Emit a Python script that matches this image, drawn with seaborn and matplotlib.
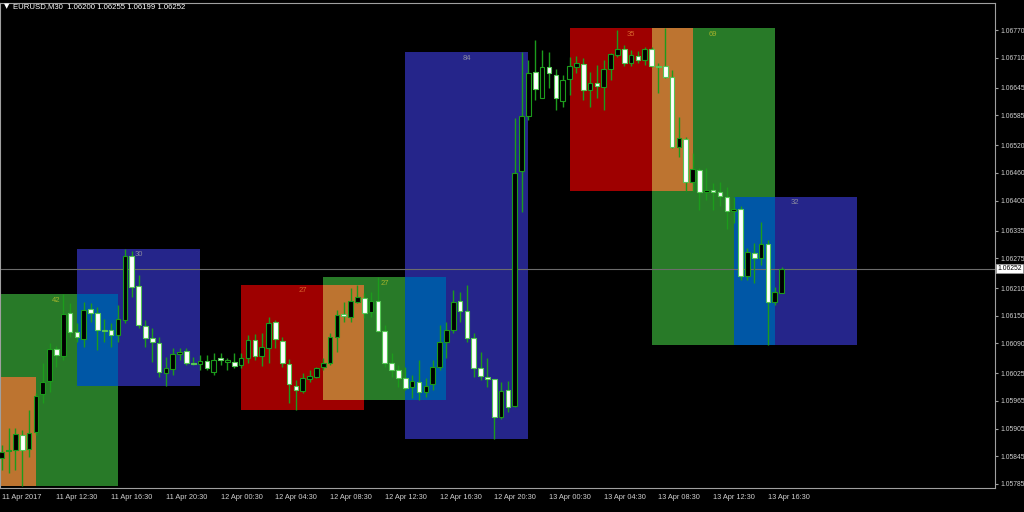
import numpy as np
import matplotlib
matplotlib.use("Agg")
import matplotlib.pyplot as plt
import seaborn as sns

# EURUSD M30 bars, bar 0 = 11 Apr 2017 08:30
opens = [1.05841, 1.05856, 1.05859, 1.05891, 1.05861, 1.05898, 1.05980, 1.06008, 1.06078, 1.06063,
         1.06156, 1.06115, 1.06099, 1.06165, 1.06156, 1.06119, 1.06119, 1.06108, 1.06141, 1.06280,
         1.06214, 1.06128, 1.06102, 1.06091, 1.06026, 1.06034, 1.06067, 1.06073, 1.06047, 1.06045,
         1.06052, 1.06028, 1.06058, 1.06050, 1.06050, 1.06043, 1.06058, 1.06097, 1.06063, 1.06080,
         1.06136, 1.06095, 1.06045, 1.05997, 1.05987, 1.06013, 1.06017, 1.06039, 1.06047, 1.06104,
         1.06154, 1.06147, 1.06180, 1.06188, 1.06158, 1.06182, 1.06117, 1.06047, 1.06032, 1.06015,
         1.05995, 1.06006, 1.05984, 1.06002, 1.06039, 1.06093, 1.06119, 1.06182, 1.06160, 1.06102,
         1.06037, 1.06017, 1.06013, 1.05930, 1.05989, 1.05954, 1.06464, 1.06583, 1.06679, 1.06622,
         1.06690, 1.06672, 1.06616, 1.06664, 1.06690, 1.06696, 1.06640, 1.06655, 1.06646, 1.06685,
         1.06716, 1.06729, 1.06698, 1.06714, 1.06705, 1.06729, 1.06692, 1.06692, 1.06668, 1.06516,
         1.06533, 1.06440, 1.06466, 1.06418, 1.06423, 1.06418, 1.06408, 1.06377, 1.06382, 1.06236,
         1.06286, 1.06275, 1.06306, 1.06180, 1.06200]
highs = [1.05869, 1.05906, 1.05906, 1.05902, 1.05945, 1.05982, 1.06047, 1.06091, 1.06084, 1.06197,
         1.06178, 1.06134, 1.06180, 1.06178, 1.06169, 1.06143, 1.06134, 1.06173, 1.06295, 1.06290,
         1.06238, 1.06141, 1.06123, 1.06104, 1.06060, 1.06080, 1.06080, 1.06080, 1.06060, 1.06065,
         1.06065, 1.06069, 1.06069, 1.06058, 1.06069, 1.06069, 1.06108, 1.06110, 1.06112, 1.06147,
         1.06141, 1.06104, 1.06056, 1.06011, 1.06026, 1.06032, 1.06039, 1.06058, 1.06112, 1.06162,
         1.06180, 1.06210, 1.06217, 1.06199, 1.06201, 1.06234, 1.06130, 1.06069, 1.06043, 1.06039,
         1.06021, 1.06054, 1.06015, 1.06054, 1.06130, 1.06136, 1.06206, 1.06201, 1.06217, 1.06112,
         1.06071, 1.06058, 1.06013, 1.06006, 1.06008, 1.06579, 1.06722, 1.06705, 1.06748, 1.06727,
         1.06722, 1.06685, 1.06672, 1.06711, 1.06714, 1.06709, 1.06679, 1.06694, 1.06705, 1.06720,
         1.06770, 1.06737, 1.06727, 1.06724, 1.06733, 1.06733, 1.06698, 1.06774, 1.06683, 1.06581,
         1.06538, 1.06503, 1.06471, 1.06471, 1.06438, 1.06440, 1.06429, 1.06408, 1.06388, 1.06297,
         1.06308, 1.06353, 1.06314, 1.06212, 1.06255]
lows = [1.05815, 1.05809, 1.05815, 1.05781, 1.05843, 1.05891, 1.05961, 1.05984, 1.06039, 1.06054,
        1.06104, 1.06093, 1.06082, 1.06136, 1.06076, 1.06093, 1.06082, 1.06093, 1.06134, 1.06191,
        1.06123, 1.06082, 1.06050, 1.06017, 1.05997, 1.06021, 1.06054, 1.06043, 1.06043, 1.06032,
        1.06032, 1.06021, 1.06043, 1.06032, 1.06037, 1.06037, 1.06047, 1.06054, 1.06041, 1.06047,
        1.06080, 1.06039, 1.05961, 1.05945, 1.05982, 1.06006, 1.06015, 1.06032, 1.06043, 1.06071,
        1.06136, 1.06136, 1.06178, 1.06145, 1.06147, 1.06115, 1.06039, 1.06017, 1.05995, 1.05989,
        1.05971, 1.05967, 1.05974, 1.05989, 1.06032, 1.06058, 1.06112, 1.06136, 1.06093, 1.06017,
        1.06011, 1.05995, 1.05882, 1.05926, 1.05941, 1.05952, 1.06375, 1.06575, 1.06618, 1.06622,
        1.06644, 1.06596, 1.06603, 1.06629, 1.06677, 1.06618, 1.06603, 1.06622, 1.06596, 1.06662,
        1.06711, 1.06692, 1.06692, 1.06698, 1.06694, 1.06690, 1.06633, 1.06666, 1.06514, 1.06494,
        1.06421, 1.06421, 1.06379, 1.06401, 1.06379, 1.06388, 1.06338, 1.06351, 1.06228, 1.06228,
        1.06221, 1.06260, 1.06086, 1.06173, 1.06199]
closes = [1.05854, 1.05859, 1.05893, 1.05859, 1.05895, 1.05976, 1.06006, 1.06078, 1.06065, 1.06154,
          1.06115, 1.06104, 1.06162, 1.06156, 1.06119, 1.06117, 1.06108, 1.06143, 1.06280, 1.06212,
          1.06130, 1.06102, 1.06093, 1.06028, 1.06037, 1.06067, 1.06071, 1.06047, 1.06045, 1.06052,
          1.06037, 1.06054, 1.06054, 1.06054, 1.06041, 1.06058, 1.06097, 1.06063, 1.06082, 1.06134,
          1.06099, 1.06047, 1.06002, 1.05989, 1.06015, 1.06019, 1.06037, 1.06047, 1.06104, 1.06152,
          1.06149, 1.06182, 1.06191, 1.06156, 1.06182, 1.06117, 1.06047, 1.06032, 1.06015, 1.05993,
          1.06008, 1.05984, 1.05997, 1.06039, 1.06093, 1.06119, 1.06180, 1.06160, 1.06102, 1.06037,
          1.06019, 1.06013, 1.05930, 1.05987, 1.05952, 1.06460, 1.06583, 1.06677, 1.06642, 1.06690,
          1.06677, 1.06622, 1.06662, 1.06692, 1.06698, 1.06640, 1.06655, 1.06648, 1.06685, 1.06718,
          1.06729, 1.06698, 1.06716, 1.06705, 1.06729, 1.06692, 1.06690, 1.06668, 1.06516, 1.06536,
          1.06440, 1.06468, 1.06418, 1.06423, 1.06418, 1.06410, 1.06377, 1.06382, 1.06236, 1.06288,
          1.06275, 1.06306, 1.06180, 1.06201, 1.06252]

# session boxes (bar index from/to, high, low, label)
session_kind = ["red", "green", "navy", "red", "green", "navy", "red", "green", "navy"]
session_from = [-13, -1, 11, 35, 47, 59, 83, 95, 107]
session_to = [5, 17, 29, 53, 65, 77, 101, 113, 125]
session_high = [1.06017, 1.06197, 1.06295, 1.06217, 1.06234, 1.06722, 1.06774, 1.06774, 1.06408]
session_low = [1.05781, 1.05781, 1.05997, 1.05945, 1.05967, 1.05882, 1.06421, 1.06086, 1.06086]
session_label = ["24", "42", "30", "27", "27", "84", "35", "69", "32"]

price_ticks = [1.06770, 1.06710, 1.06645, 1.06585, 1.06520, 1.06460, 1.06400, 1.06335, 1.06275,
               1.06210, 1.06150, 1.06090, 1.06025, 1.05965, 1.05905, 1.05845, 1.05785]
time_ticks = [0, 8, 16, 24, 32, 40, 48, 56, 64, 72, 80, 88, 96, 104, 112]
time_labels = ["11 Apr 2017", "11 Apr 12:30", "11 Apr 16:30", "11 Apr 20:30", "12 Apr 00:30",
               "12 Apr 04:30", "12 Apr 08:30", "12 Apr 12:30", "12 Apr 16:30", "12 Apr 20:30",
               "13 Apr 00:30", "13 Apr 04:30", "13 Apr 08:30", "13 Apr 12:30", "13 Apr 16:30"]

box_colors = {"red": "#9e0000", "green": "#287a28", "navy": "#25258a"}
label_colors = {"red": "#d8652c", "green": "#a3b22c", "navy": "#8c8ca0"}
mix_colors = {("red", "green"): "#bd7430", ("green", "navy"): "#0057a6"}

sns.set_theme(style="dark", rc={"axes.facecolor": "black", "figure.facecolor": "black",
                                "axes.edgecolor": "#a0a0a0", "axes.grid": False})
plt.rcParams["font.family"] = ["Liberation Sans", "DejaVu Sans"]

fig = plt.figure(figsize=(10.24, 5.12), dpi=100)
ax = fig.add_axes([0.0, 0.047, 0.9717, 0.947])

# session rectangles
for k in range(len(session_kind)):
    ax.bar(session_from[k], session_high[k] - session_low[k], width=session_to[k] - session_from[k],
           bottom=session_low[k], align="edge", color=box_colors[session_kind[k]], lw=0, zorder=0.5)
    ax.annotate(session_label[k], ((session_from[k] + session_to[k]) / 2, session_high[k]),
                xytext=(0, -6), textcoords="offset pixels", ha="center", va="center",
                fontsize=5.5, color=label_colors[session_kind[k]], zorder=1)

# overlaps drawn in the mixed colour
for a in range(len(session_kind)):
    for b in range(a + 1, len(session_kind)):
        pair = (session_kind[a], session_kind[b])
        if pair not in mix_colors:
            pair = (session_kind[b], session_kind[a])
        if pair not in mix_colors:
            continue
        s = max(session_from[a], session_from[b])
        e = min(session_to[a], session_to[b])
        lo = max(session_low[a], session_low[b])
        hi = min(session_high[a], session_high[b])
        if s < e and lo < hi:
            ax.bar(s, hi - lo, width=e - s, bottom=lo, align="edge", color=mix_colors[pair],
                   lw=0, zorder=0.6)

# candles
o = np.array(opens)
h = np.array(highs)
l = np.array(lows)
c = np.array(closes)
x = np.arange(len(o))
up = c >= o
body_lo = np.minimum(o, c)
body_h = np.maximum(np.abs(c - o), 0.000012)
wick = "#1c9c1c"
ax.vlines(x, l, h, color=wick, lw=1.0, zorder=2)
ax.bar(x[up], body_h[up], bottom=body_lo[up], width=0.68, color="black", edgecolor=wick,
       lw=0.8, zorder=3)
ax.bar(x[~up], body_h[~up], bottom=body_lo[~up], width=0.68, color="white", edgecolor="#55c855",
       lw=0.8, zorder=3)

# bid line
ax.axhline(closes[-1], color="#6c6c6c", lw=0.8, zorder=1.5)

ax.set_xlim(-0.25, 145.2)
ax.set_ylim(1.05776, 1.06829)

ax.yaxis.tick_right()
ax.set_yticks(price_ticks)
ax.set_yticklabels([f"{p:.5f}" for p in price_ticks])
ax.set_xticks(time_ticks)
ax.set_xticklabels(time_labels, ha="left")
ax.tick_params(axis="both", colors="#a0a0a0", labelcolor="#d0d0d0", labelsize=5.3,
               length=2.5, width=0.8, direction="out")
ax.tick_params(axis="x", pad=2)
ax.tick_params(axis="y", pad=1.5, right=True, left=False, labelsize=4.9)
for sp in ax.spines.values():
    sp.set_color("#a0a0a0")
    sp.set_linewidth(0.8)

ax.text(1.0025, closes[-1], f"{closes[-1]:.5f}", transform=ax.get_yaxis_transform(),
        ha="left", va="center", fontsize=4.9, color="black",
        bbox=dict(boxstyle="square,pad=0.15", fc="white", ec="#a0a0a0", lw=0.5))

fig.text(0.004, 0.988, "\u25bc", fontsize=5, color="white", va="center",
         family=["DejaVu Sans"])
fig.text(0.013, 0.988, f"EURUSD,M30  {opens[-1]:.5f} {highs[-1]:.5f} {lows[-1]:.5f} {closes[-1]:.5f}",
         fontsize=5.6, color="white", va="center")

fig.savefig("out.png", dpi=100, facecolor="black")
